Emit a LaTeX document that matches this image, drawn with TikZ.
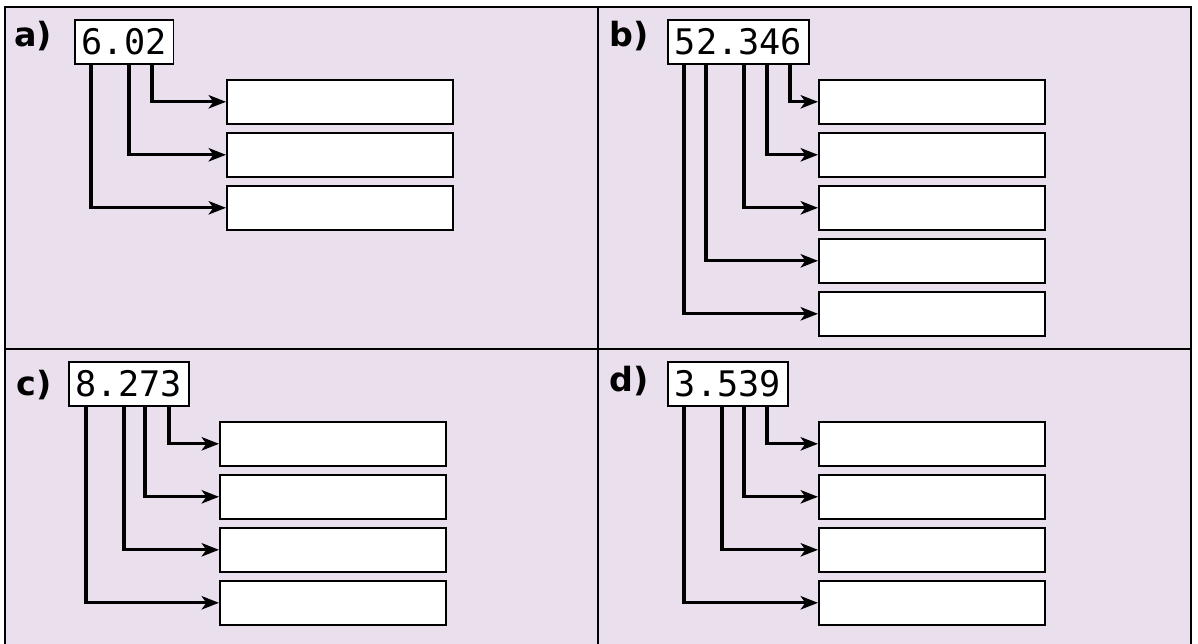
\documentclass[tikz,border=0pt]{standalone}
\usepackage{fontspec}
\setmainfont{DejaVu Sans}
\newfontfamily\digitsfont{DejaVu Sans Mono}
\usetikzlibrary{arrows.meta}
\usetikzlibrary{calc}
\definecolor{panelfill}{RGB}{234,223,237}
\tikzset{
  numbox/.style={draw, fill=white, line width=1.2pt, anchor=north west, inner xsep=5.25pt, inner ysep=0pt, minimum height=33pt, font=\digitsfont\fontsize{26.4}{30}\selectfont},
  ansbox/.style={draw, fill=white, line width=1.2pt, anchor=north west, inner sep=0pt, minimum width=169.5pt, minimum height=33pt},
  partlabel/.style={anchor=west, inner sep=0pt, font=\bfseries\fontsize{25}{29}\selectfont},
  leadline/.style={line width=2.3pt, -{Stealth[length=13pt, width=10pt, inset=3.5pt]}},
}
\begin{document}
\begin{tikzpicture}[x=0.75pt,y=0.75pt,yscale=-1,xscale=1]
\useasboundingbox (0,0) rectangle (1198,643);
\clip (0,0) rectangle (1198,643);

%Shape: Rectangle
\draw [fill=panelfill, line width=1.2pt] (5,7) rectangle (1191,660);
%Straight Lines
\draw [line width=1.2pt] (598,7) -- (598,660);
\draw [line width=1.2pt] (5,349) -- (1191,349);

% Text Node
\node (laba) [partlabel] at (14,36) {a)};
\node (numa) [numbox] at (74,19) {6.02};
%Shape: Rectangle
\node (ansa1) [ansbox] at (226,79) {};
\node (ansa2) [ansbox] at (226,132) {};
\node (ansa3) [ansbox] at (226,185) {};
%Straight Lines
\draw [leadline] ($(numa.south west)+(17,0)$) |- (ansa3.west);
\draw [leadline] ($(numa.south west)+(55,0)$) |- (ansa2.west);
\draw [leadline] ($(numa.south west)+(78,0)$) |- (ansa1.west);

% Text Node
\node (labb) [partlabel] at (609,36) {b)};
\node (numb) [numbox] at (667,19) {52.346};
%Shape: Rectangle
\node (ansb1) [ansbox] at (818,79) {};
\node (ansb2) [ansbox] at (818,132) {};
\node (ansb3) [ansbox] at (818,185) {};
\node (ansb4) [ansbox] at (818,238) {};
\node (ansb5) [ansbox] at (818,291) {};
%Straight Lines
\draw [leadline] ($(numb.south west)+(17,0)$) |- (ansb5.west);
\draw [leadline] ($(numb.south west)+(39,0)$) |- (ansb4.west);
\draw [leadline] ($(numb.south west)+(77,0)$) |- (ansb3.west);
\draw [leadline] ($(numb.south west)+(100,0)$) |- (ansb2.west);
\draw [leadline] ($(numb.south west)+(123,0)$) |- (ansb1.west);

% Text Node
\node (labc) [partlabel] at (16,385) {c)};
\node (numc) [numbox] at (68,361) {8.273};
%Shape: Rectangle
\node (ansc1) [ansbox] at (219,421) {};
\node (ansc2) [ansbox] at (219,474) {};
\node (ansc3) [ansbox] at (219,527) {};
\node (ansc4) [ansbox] at (219,580) {};
%Straight Lines
\draw [leadline] ($(numc.south west)+(18,0)$) |- (ansc4.west);
\draw [leadline] ($(numc.south west)+(56,0)$) |- (ansc3.west);
\draw [leadline] ($(numc.south west)+(77,0)$) |- (ansc2.west);
\draw [leadline] ($(numc.south west)+(101,0)$) |- (ansc1.west);

% Text Node
\node (labd) [partlabel] at (609,381) {d)};
\node (numd) [numbox] at (667,361) {3.539};
%Shape: Rectangle
\node (ansd1) [ansbox] at (818,421) {};
\node (ansd2) [ansbox] at (818,474) {};
\node (ansd3) [ansbox] at (818,527) {};
\node (ansd4) [ansbox] at (818,580) {};
%Straight Lines
\draw [leadline] ($(numd.south west)+(17,0)$) |- (ansd4.west);
\draw [leadline] ($(numd.south west)+(55,0)$) |- (ansd3.west);
\draw [leadline] ($(numd.south west)+(77,0)$) |- (ansd2.west);
\draw [leadline] ($(numd.south west)+(100,0)$) |- (ansd1.west);

\end{tikzpicture}
\end{document}
